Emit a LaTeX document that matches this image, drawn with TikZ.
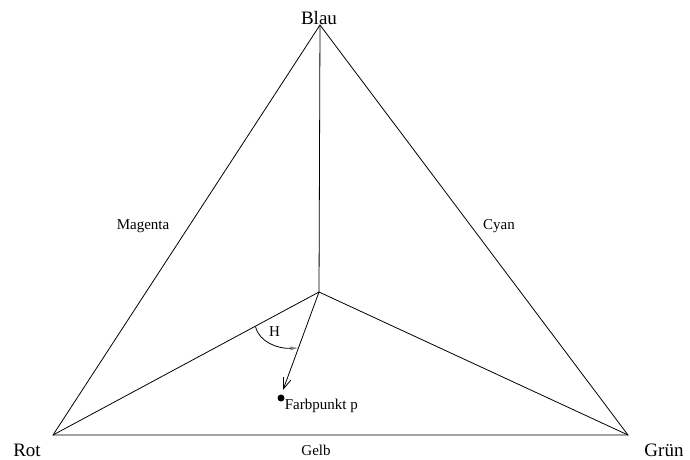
\documentclass[tikz,border=0pt]{standalone}
\usepackage{fontspec}
\setmainfont{Liberation Serif}
\usetikzlibrary{arrows.meta}
\begin{document}
\begin{tikzpicture}[x=1pt,y=-1pt,line width=0.8pt,
  biglabel/.style={font=\fontsize{19}{19}\selectfont,inner sep=0pt,text depth=0pt},
  smalllabel/.style={font=\fontsize{15}{15}\selectfont,inner sep=0pt}]
\useasboundingbox (0,0) rectangle (690,459);
\coordinate (B) at (320,25);
\coordinate (R) at (53,435);
\coordinate (G) at (628,435);
\coordinate (C) at (319,292);
\coordinate (T) at (283,390);
\coordinate (A1) at (255.5,326.5);
\coordinate (A2) at (298.5,348);
\draw (R) -- (G) -- (B) -- cycle;
\draw (C) -- (B);
\draw (C) -- (R);
\draw (C) -- (G);
\draw[-{Straight Barb[length=11pt,width=8pt]}] (C) -- (T);
\draw[-{Latex[length=8pt,width=4pt,fill=gray,color=gray]}] (A1) .. controls (259,342) and (278,349) .. (A2);
\fill (281,398) circle (3.5) node (P) {};
\node[biglabel,anchor=base] (lb) at (319,24.5) {Blau};
\node[biglabel,anchor=base] (lr) at (27,456) {Rot};
\node[biglabel,anchor=base] (lg) at (664,456) {Grün};
\node[smalllabel] (lm) at (143,226) {Magenta};
\node[smalllabel] (lc) at (499,226) {Cyan};
\node[smalllabel] (lge) at (316,450) {Gelb};
\node[smalllabel] (lh) at (274.5,332) {H};
\node[smalllabel,anchor=west] (lf) at (284.5,406) {Farbpunkt p};
\end{tikzpicture}
\end{document}
